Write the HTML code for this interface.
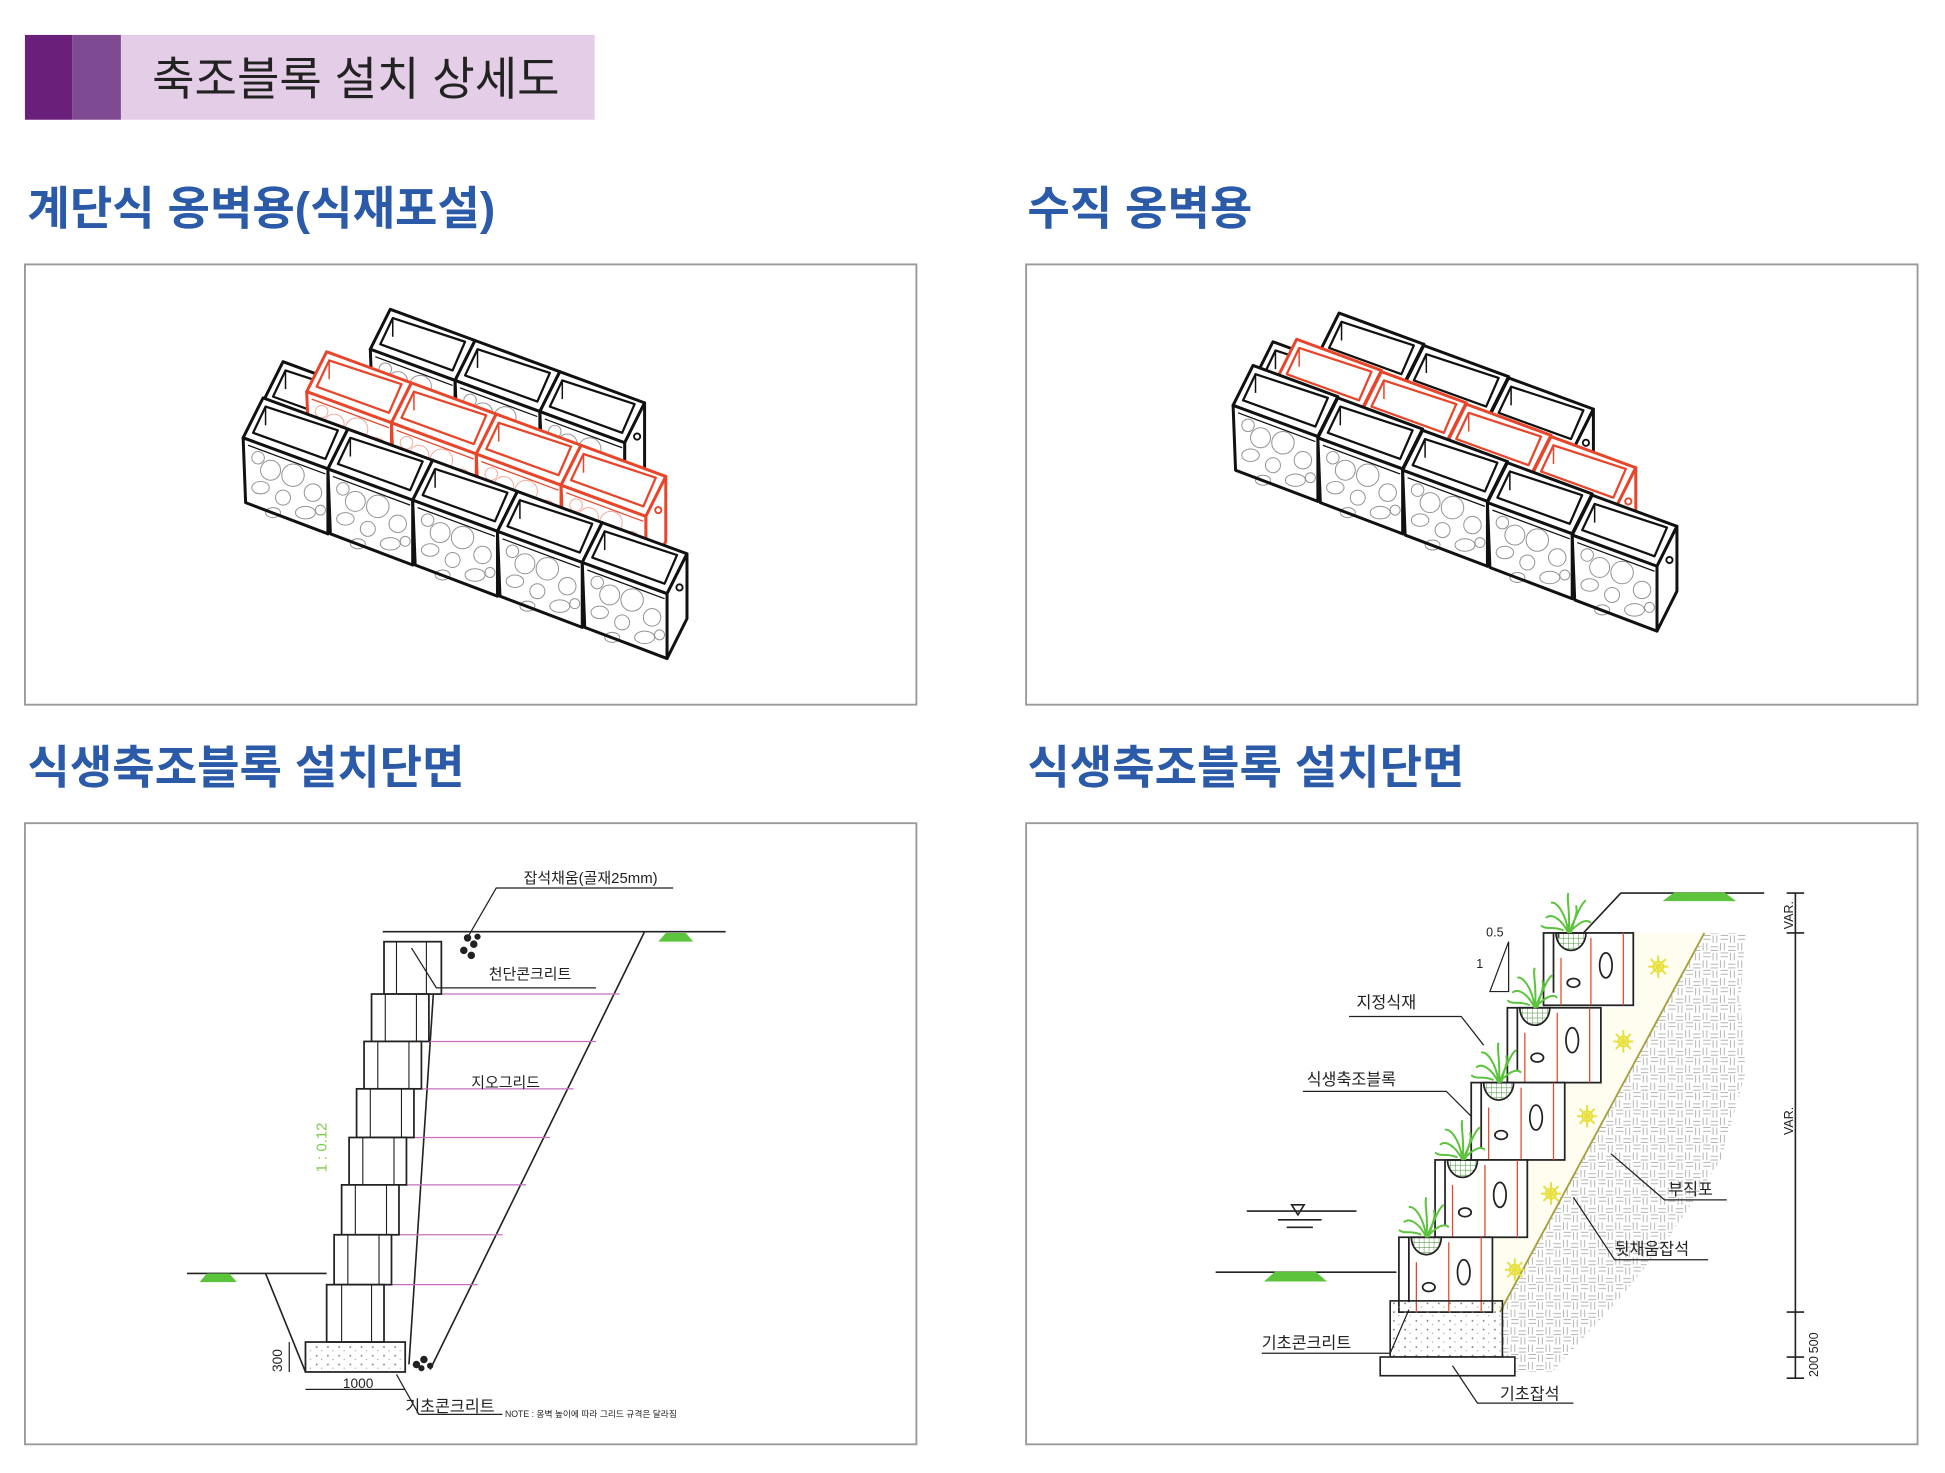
<!DOCTYPE html>
<html><head><meta charset="utf-8"><style>
html,body{margin:0;padding:0;background:#fff;}
svg{display:block;}
text{font-family:"Liberation Sans","Noto Sans CJK KR",sans-serif;}
</style></head><body>
<svg width="1945" height="1473" viewBox="0 0 1560 1181" preserveAspectRatio="none" xmlns="http://www.w3.org/2000/svg">
<defs>
<g id="stones" fill="none" stroke-width="0.8">
 <circle cx="22" cy="26" r="8"/><circle cx="40" cy="30" r="9"/><circle cx="56" cy="44" r="7"/>
 <ellipse cx="14" cy="40" rx="7" ry="5"/><circle cx="32" cy="48" r="6"/><ellipse cx="50" cy="60" rx="8" ry="5"/>
 <circle cx="12" cy="16" r="5"/><ellipse cx="24" cy="60" rx="6" ry="4"/><circle cx="62" cy="58" r="4"/>
</g>
<g id="blk" stroke-linejoin="round">
 <polygon points="0,0 16,-32 84,-7 68,25" fill="#fff" stroke="currentColor" stroke-width="2.4"/>
 <polygon points="8,-4 18,-25 76,-6 66,17" fill="#fff" stroke="currentColor" stroke-width="1.8"/>
 <line x1="18" y1="-25" x2="18" y2="-10" stroke="currentColor" stroke-width="1.2"/>
 <polygon points="68,25 84,-7 84,45 68,77" fill="#fff" stroke="currentColor" stroke-width="2.4"/>
 <polygon points="0,0 68,25 68,77 2,52" fill="#fff" stroke="currentColor" stroke-width="2.4"/>
 <line x1="4" y1="6" x2="66" y2="29" stroke="currentColor" stroke-width="1"/>
 <use href="#stones" stroke="currentColor" opacity="0.45"/>
 <circle cx="78" cy="20" r="2.5" fill="none" stroke="currentColor" stroke-width="1.5"/>
</g>
<pattern id="hatch" width="14" height="14" patternUnits="userSpaceOnUse">
 <path d="M0,3h6M0,6h6M8,0v6M11,0v6M8,8h6M8,11h6M2,8v6M5,8v6" stroke="#aaa" stroke-width="0.7"/>
</pattern>
<pattern id="dots" width="9" height="7" patternUnits="userSpaceOnUse">
 <circle cx="2" cy="2" r="0.7" fill="#777"/><circle cx="6" cy="5" r="0.5" fill="#999"/>
</pattern>
<pattern id="net" width="4" height="4" patternUnits="userSpaceOnUse">
 <path d="M0,0h4M0,0v4" stroke="#3a8a2a" stroke-width="0.7"/>
</pattern>
<g id="grass" stroke="#5cc43c" stroke-width="1.6" fill="none">
 <path d="M0,0 C-6,-12 -14,-16 -18,-12"/><path d="M0,0 C-2,-16 -10,-26 -14,-24"/>
 <path d="M0,0 C2,-16 -2,-28 0,-32"/><path d="M0,0 C6,-12 10,-24 14,-26"/>
 <path d="M0,0 C8,-8 14,-12 18,-8"/><path d="M-4,-2 C-12,-6 -18,-2 -22,-6"/>
 <path d="M2,0 C4,-10 8,-16 6,-22"/>
</g>
<g id="star" stroke="#e8e040" stroke-width="1.6" fill="none">
 <path d="M-8,0h16M0,-9v18M-6,-6l12,12M6,-6l-12,12"/><circle r="4"/>
</g>
</defs>

<rect x="20" y="28" width="38" height="68" fill="#6a1f7a"/>
<rect x="58" y="28" width="39" height="68" fill="#7e4a92"/>
<rect x="97" y="28" width="380" height="68" fill="#e4cde6"/>
<text x="122" y="76" font-size="37" fill="#222">축조블록 설치 상세도</text>

<g font-size="37" font-weight="bold" fill="#2a5aa8">
<text x="22" y="180">계단식 옹벽용(식재포설)</text>
<text x="824" y="180">수직 옹벽용</text>
<text x="22" y="628">식생축조블록 설치단면</text>
<text x="824" y="628">식생축조블록 설치단면</text>
</g>

<g fill="none" stroke="#9a9a9a" stroke-width="1.5">
<rect x="20" y="212" width="715" height="353"/>
<rect x="823" y="212" width="715" height="353"/>
<rect x="20" y="660" width="715" height="498"/>
<rect x="823" y="660" width="715" height="498"/>
</g>

<g color="#111">
<use href="#blk" transform="translate(297,280)"/>
<use href="#blk" transform="translate(365,305)"/>
<use href="#blk" transform="translate(433,330)"/>
<use href="#blk" transform="translate(211,322)"/>
</g>
<g color="#e8452a">
<use href="#blk" transform="translate(246,314)"/>
<use href="#blk" transform="translate(314,339)"/>
<use href="#blk" transform="translate(382,364)"/>
<use href="#blk" transform="translate(450,389)"/>
</g>
<g color="#111">
<use href="#blk" transform="translate(195,351)"/>
<use href="#blk" transform="translate(263,376)"/>
<use href="#blk" transform="translate(331,401)"/>
<use href="#blk" transform="translate(399,426)"/>
<use href="#blk" transform="translate(467,451)"/>
</g>

<g color="#111">
<use href="#blk" transform="translate(1058,283)"/>
<use href="#blk" transform="translate(1126,309)"/>
<use href="#blk" transform="translate(1194,335)"/>
<use href="#blk" transform="translate(1005,306)"/>
</g>
<g color="#e8452a">
<use href="#blk" transform="translate(1024,304)"/>
<use href="#blk" transform="translate(1092,330)"/>
<use href="#blk" transform="translate(1160,356)"/>
<use href="#blk" transform="translate(1228,382)"/>
</g>
<g color="#111">
<use href="#blk" transform="translate(989,325)"/>
<use href="#blk" transform="translate(1057,351)"/>
<use href="#blk" transform="translate(1125,377)"/>
<use href="#blk" transform="translate(1193,403)"/>
<use href="#blk" transform="translate(1261,429)"/>
</g>

<g stroke="#222" stroke-width="1.3" fill="none">
 <line x1="307" y1="747" x2="582" y2="747"/>
 <line x1="150" y1="1021" x2="262" y2="1021"/>
 <line x1="213" y1="1021" x2="245" y2="1100"/>
 <line x1="517" y1="747" x2="345" y2="1098"/>
 <line x1="350" y1="760" x2="328" y2="1094"/>
</g>
<g stroke="#c56fc0" stroke-width="1">
 <line x1="347" y1="797" x2="497" y2="797"/>
 <line x1="340" y1="835" x2="478" y2="835"/>
 <line x1="334" y1="873" x2="460" y2="873"/>
 <line x1="328" y1="912" x2="441" y2="912"/>
 <line x1="322" y1="950" x2="422" y2="950"/>
 <line x1="316" y1="990" x2="403" y2="990"/>
 <line x1="310" y1="1030" x2="383" y2="1030"/>
</g>
<g stroke="#222" stroke-width="1.4" fill="#fff">
 <rect x="308" y="755" width="46" height="42"/>
 <rect x="298" y="797" width="46" height="38"/>
 <rect x="292" y="835" width="46" height="38"/>
 <rect x="286" y="873" width="46" height="39"/>
 <rect x="280" y="912" width="46" height="38"/>
 <rect x="274" y="950" width="46" height="40"/>
 <rect x="268" y="990" width="46" height="40"/>
 <rect x="262" y="1030" width="46" height="46"/>
</g>
<g stroke="#222" stroke-width="0.9">
 <line x1="318" y1="755" x2="318" y2="797"/><line x1="342" y1="755" x2="342" y2="797"/>
 <line x1="309" y1="797" x2="309" y2="835"/><line x1="334" y1="797" x2="334" y2="835"/>
 <line x1="303" y1="835" x2="303" y2="873"/><line x1="328" y1="835" x2="328" y2="873"/>
 <line x1="297" y1="873" x2="297" y2="912"/><line x1="322" y1="873" x2="322" y2="912"/>
 <line x1="291" y1="912" x2="291" y2="950"/><line x1="316" y1="912" x2="316" y2="950"/>
 <line x1="285" y1="950" x2="285" y2="990"/><line x1="310" y1="950" x2="310" y2="990"/>
 <line x1="279" y1="990" x2="279" y2="1030"/><line x1="304" y1="990" x2="304" y2="1030"/>
 <line x1="274" y1="1030" x2="274" y2="1076"/><line x1="298" y1="1030" x2="298" y2="1076"/>
</g>
<rect x="245" y="1076" width="80" height="24" fill="url(#dots)" stroke="#222" stroke-width="1.4"/>
<g fill="#222"><circle cx="375" cy="752" r="3"/><circle cx="380" cy="757" r="3"/><circle cx="372" cy="762" r="3"/><circle cx="378" cy="766" r="3"/><circle cx="383" cy="751" r="2.5"/>
<circle cx="334" cy="1094" r="3"/><circle cx="340" cy="1090" r="3"/><circle cx="345" cy="1095" r="2.5"/><circle cx="338" cy="1097" r="2.5"/></g>
<g fill="#5cc43c"><polygon points="528,755 556,755 550,748 534,748"/><polygon points="160,1028 190,1028 184,1021 166,1021"/></g>
<g stroke="#222" stroke-width="1" fill="none">
 <polyline points="376,750 398,712 540,712"/>
 <polyline points="330,760 350,792 478,792"/>
 <polyline points="318,1102 336,1134 403,1134"/>
 <line x1="245" y1="1114" x2="325" y2="1114"/>
 <line x1="232" y1="1076" x2="232" y2="1100"/>
</g>
<g font-size="12" fill="#222">
 <text x="420" y="708">잡석채움(골재25mm)</text>
 <text x="392" y="785">천단콘크리트</text>
 <text x="378" y="872">지오그리드</text>
 <text x="275" y="1113" font-size="11">1000</text>
 <text x="226" y="1100" font-size="11" transform="rotate(-90 226 1100)">300</text>
 <text x="325" y="1132" font-size="13">기초콘크리트</text>
 <text x="405" y="1136" font-size="7">NOTE : 옹벽 높이에 따라 그리드 규격은 달라짐</text>
</g>
<text x="262" y="940" font-size="12" fill="#7ccc4a" transform="rotate(-90 262 940)">1 : 0.12</text>

<polygon points="1367,748 1400,748 1396,800 1400,860 1380,930 1340,990 1300,1040 1245,1100 1205,1100 1203,1052" fill="url(#hatch)"/>
<polygon points="1310,748 1367,748 1203,1052 1197,1052 1197,992 1225,992 1225,930 1255,930 1255,868 1284,868 1284,808 1310,808" fill="#fffdf0"/>
<line x1="1367" y1="748" x2="1203" y2="1052" stroke="#a8a040" stroke-width="1.5"/>
<g stroke="#222" stroke-width="1.3" fill="none">
 <polyline points="1270,748 1300,716 1415,716"/>
 <line x1="975" y1="1020" x2="1120" y2="1020"/>
 <line x1="1440" y1="716" x2="1440" y2="1105"/>
 <line x1="1433" y1="716" x2="1447" y2="716"/><line x1="1433" y1="748" x2="1447" y2="748"/>
 <line x1="1433" y1="1052" x2="1447" y2="1052"/><line x1="1433" y1="1088" x2="1447" y2="1088"/><line x1="1433" y1="1105" x2="1447" y2="1105"/>
 <line x1="1000" y1="971" x2="1088" y2="971"/><line x1="1025" y1="978" x2="1060" y2="978"/><line x1="1032" y1="984" x2="1053" y2="984"/>
 <polygon points="1036,966 1046,966 1041,974"/>
 <polygon points="1195,795 1210,755 1210,795" stroke-width="1"/>
</g>
<g fill="#5cc43c" stroke="#5cc43c"><path d="M1335,722 l8,-6 h40 l8,6z" stroke-width="1"/><path d="M1015,1027 l8,-7 h32 l8,7z" stroke-width="1"/></g>
<g stroke="#222" stroke-width="1.4">
 <g transform="translate(1238,748)">
  <rect width="72" height="58" fill="#fff"/><path d="M8,0 v48 M12,0 v4" fill="none"/>
  <path d="M10,0 a12,14 0 0 0 24,0z" fill="url(#net)"/>
  <ellipse cx="50" cy="26" rx="5" ry="10" fill="none"/><ellipse cx="24" cy="40" rx="5" ry="3.5" fill="none"/>
  <g stroke="#e8452a" stroke-width="1"><line x1="14" y1="20" x2="14" y2="58"/><line x1="38" y1="4" x2="38" y2="58"/><line x1="64" y1="0" x2="64" y2="58"/></g>
 </g>
 <g transform="translate(1209,808)">
  <rect width="75" height="60" fill="#fff"/><path d="M8,0 v50" fill="none"/>
  <path d="M10,0 a12,14 0 0 0 24,0z" fill="url(#net)"/>
  <ellipse cx="52" cy="26" rx="5" ry="10" fill="none"/><ellipse cx="24" cy="40" rx="5" ry="3.5" fill="none"/>
  <g stroke="#e8452a" stroke-width="1"><line x1="14" y1="20" x2="14" y2="60"/><line x1="40" y1="4" x2="40" y2="60"/><line x1="66" y1="0" x2="66" y2="60"/></g>
 </g>
 <g transform="translate(1180,868)">
  <rect width="75" height="62" fill="#fff"/><path d="M8,0 v52" fill="none"/>
  <path d="M10,0 a12,14 0 0 0 24,0z" fill="url(#net)"/>
  <ellipse cx="52" cy="28" rx="5" ry="10" fill="none"/><ellipse cx="24" cy="42" rx="5" ry="3.5" fill="none"/>
  <g stroke="#e8452a" stroke-width="1"><line x1="14" y1="20" x2="14" y2="62"/><line x1="40" y1="4" x2="40" y2="62"/><line x1="66" y1="0" x2="66" y2="62"/></g>
 </g>
 <g transform="translate(1151,930)">
  <rect width="74" height="62" fill="#fff"/><path d="M8,0 v52" fill="none"/>
  <path d="M10,0 a12,14 0 0 0 24,0z" fill="url(#net)"/>
  <ellipse cx="52" cy="28" rx="5" ry="10" fill="none"/><ellipse cx="24" cy="42" rx="5" ry="3.5" fill="none"/>
  <g stroke="#e8452a" stroke-width="1"><line x1="14" y1="20" x2="14" y2="62"/><line x1="40" y1="4" x2="40" y2="62"/><line x1="66" y1="0" x2="66" y2="62"/></g>
 </g>
 <g transform="translate(1122,992)">
  <rect width="75" height="60" fill="#fff"/><path d="M8,0 v52" fill="none"/>
  <path d="M10,0 a12,14 0 0 0 24,0z" fill="url(#net)"/>
  <ellipse cx="52" cy="28" rx="5" ry="10" fill="none"/><ellipse cx="24" cy="40" rx="5" ry="3.5" fill="none"/>
  <g stroke="#e8452a" stroke-width="1"><line x1="14" y1="20" x2="14" y2="60"/><line x1="40" y1="4" x2="40" y2="60"/><line x1="66" y1="0" x2="66" y2="60"/></g>
 </g>
</g>
<use href="#grass" transform="translate(1258,748)"/>
<use href="#grass" transform="translate(1231,808)"/>
<use href="#grass" transform="translate(1202,868)"/>
<use href="#grass" transform="translate(1173,930)"/>
<use href="#grass" transform="translate(1144,992)"/>
<use href="#star" transform="translate(1330,775)"/>
<use href="#star" transform="translate(1302,835)"/>
<use href="#star" transform="translate(1273,895)"/>
<use href="#star" transform="translate(1244,957)"/>
<use href="#star" transform="translate(1215,1018)"/>
<rect x="1115" y="1043" width="90" height="45" fill="url(#dots)" stroke="#222" stroke-width="1.3"/>
<rect x="1107" y="1088" width="108" height="15" fill="#fff" stroke="#222" stroke-width="1.3"/>
<g stroke="#222" stroke-width="1" fill="none">
 <polyline points="1190,838 1172,815 1082,815"/>
 <polyline points="1180,895 1160,875 1045,875"/>
 <polyline points="1292,925 1335,962 1385,962"/>
 <polyline points="1262,960 1295,1010 1370,1010"/>
 <polyline points="1130,1050 1115,1085 1012,1085"/>
 <polyline points="1165,1095 1185,1125 1262,1125"/>
</g>
<g font-size="13" fill="#222">
 <text x="1088" y="808">지정식재</text>
 <text x="1048" y="870">식생축조블록</text>
 <text x="1338" y="958">부직포</text>
 <text x="1295" y="1006">뒷채움잡석</text>
 <text x="1012" y="1081">기초콘크리트</text>
 <text x="1203" y="1122">기초잡석</text>
 <text x="1192" y="751" font-size="10">0.5</text>
 <text x="1184" y="776" font-size="10">1</text>
 <text x="1438" y="745" font-size="10" transform="rotate(-90 1438 745)">VAR.</text>
 <text x="1438" y="910" font-size="10" transform="rotate(-90 1438 910)">VAR.</text>
 <text x="1458" y="1085" font-size="10" transform="rotate(-90 1458 1085)">500</text>
 <text x="1458" y="1104" font-size="10" transform="rotate(-90 1458 1104)">200</text>
</g>
</svg>
</body></html>
